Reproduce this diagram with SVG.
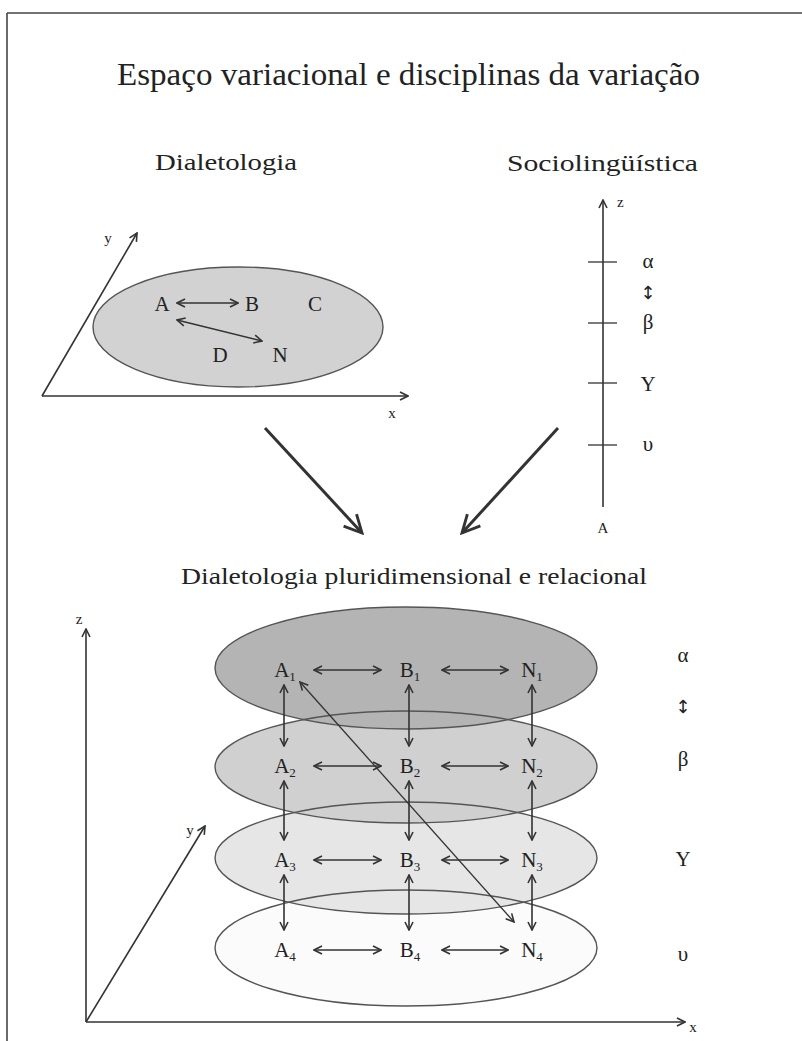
<svg xmlns="http://www.w3.org/2000/svg" width="802" height="1041" viewBox="0 0 802 1041">
<style>
text{font-family:"Liberation Serif","Times New Roman",serif;fill:#222}
.t{font-size:31px}
.h{font-size:23px}
.g{font-size:21px;text-anchor:middle}
.s{font-size:15px}
.ax{stroke:#333;stroke-width:1.6;fill:none}
.ln{stroke:#333;stroke-width:1.6;fill:none}
.tk{stroke:#333;stroke-width:1.3}
.el{stroke:#555;stroke-width:1.4}
.eo{stroke:#555;stroke-width:1.4;fill:none}
.sub{font-size:13px}
.arr{font-family:"DejaVu Sans",sans-serif;font-size:18px}
</style>
<defs>
<marker id="ah" viewBox="0 0 10 10" refX="9" refY="5" markerWidth="10" markerHeight="10" markerUnits="userSpaceOnUse" orient="auto-start-reverse">
<path d="M1,1 L9,5 L1,9" fill="none" stroke="#333" stroke-width="1.6"/>
</marker>
<marker id="ahb" viewBox="0 0 10 10" refX="9" refY="5" markerWidth="22" markerHeight="22" markerUnits="userSpaceOnUse" orient="auto">
<path d="M1,1 L9,5 L1,9" fill="none" stroke="#333" stroke-width="1.3"/>
</marker>
</defs>
<rect width="802" height="1041" fill="#fff"/>
<g id="frame">
<line x1="7" y1="13" x2="802" y2="13" stroke="#444" stroke-width="1.6"/>
<line x1="7" y1="13" x2="7" y2="1041" stroke="#444" stroke-width="1.6"/>
</g>
<g id="title"><text class="t" x="117" y="85" textLength="583" lengthAdjust="spacingAndGlyphs">Espaço variacional e disciplinas da variação</text></g>

<g id="dialetologia">
<text class="h" x="155" y="170" textLength="142" lengthAdjust="spacingAndGlyphs">Dialetologia</text>
<ellipse cx="238" cy="327" rx="145" ry="60" fill="#d2d2d2" class="el"/>
<line class="ax" x1="42" y1="396" x2="408" y2="396" marker-end="url(#ah)"/>
<line class="ax" x1="42" y1="396" x2="137" y2="233" marker-end="url(#ah)"/>
<text class="s" x="108" y="243" text-anchor="middle">y</text>
<text class="s" x="392" y="418" text-anchor="middle">x</text>
<text class="g" x="162" y="311">A</text>
<text class="g" x="252" y="311">B</text>
<text class="g" x="315" y="311">C</text>
<text class="g" x="220" y="362">D</text>
<text class="g" x="280" y="362">N</text>
<line class="ln" x1="177" y1="303" x2="238" y2="303" marker-start="url(#ah)" marker-end="url(#ah)"/>
<line class="ln" x1="177" y1="320" x2="262" y2="341" marker-start="url(#ah)" marker-end="url(#ah)"/>
</g>

<g id="sociolinguistica">
<text class="h" x="507" y="171" textLength="191" lengthAdjust="spacingAndGlyphs">Sociolingüística</text>
<line class="ax" x1="603" y1="507" x2="603" y2="200" marker-end="url(#ah)"/>
<text class="s" x="617" y="207">z</text>
<line class="tk" x1="588" y1="262" x2="617" y2="262"/>
<line class="tk" x1="588" y1="323" x2="617" y2="323"/>
<line class="tk" x1="588" y1="383" x2="617" y2="383"/>
<line class="tk" x1="588" y1="445" x2="617" y2="445"/>
<text class="g" x="648" y="268">α</text>
<text class="g arr" x="648" y="299">↕</text>
<text class="g" x="648" y="329">β</text>
<text class="g" x="648" y="391">Υ</text>
<text class="g" x="648" y="451">υ</text>
<text class="s" x="603" y="533" text-anchor="middle">A</text>
</g>

<g id="connectors">
<line x1="265" y1="428" x2="362" y2="533" stroke="#333" stroke-width="3" marker-end="url(#ahb)"/>
<line x1="558" y1="428" x2="462" y2="533" stroke="#333" stroke-width="3" marker-end="url(#ahb)"/>
</g>

<g id="pluridimensional">
<text class="h" x="181" y="584" textLength="466" lengthAdjust="spacingAndGlyphs">Dialetologia pluridimensional e relacional</text>
<line class="ax" x1="86" y1="1022" x2="86" y2="629" marker-end="url(#ah)"/>
<line class="ax" x1="86" y1="1022" x2="685" y2="1022" marker-end="url(#ah)"/>
<line class="ax" x1="86" y1="1022" x2="205" y2="826" marker-end="url(#ah)"/>
<text class="s" x="79" y="624" text-anchor="middle">z</text>
<text class="s" x="693" y="1032" text-anchor="middle">x</text>
<text class="s" x="190" y="835" text-anchor="middle">y</text>
</g>

<g id="layer4"><ellipse cx="406" cy="948" rx="191" ry="58" fill="#fbfbfb"/></g>
<g id="layer3"><ellipse cx="406" cy="858" rx="191" ry="56" fill="#e6e6e6"/></g>
<g id="layer2"><ellipse cx="406" cy="767" rx="191" ry="56" fill="#d0d0d0"/></g>
<g id="layer1"><ellipse cx="406" cy="668" rx="191" ry="61" fill="#b4b4b4"/></g>
<g id="layer-outlines">
<ellipse class="eo" cx="406" cy="948" rx="191" ry="58"/>
<ellipse class="eo" cx="406" cy="858" rx="191" ry="56"/>
<ellipse class="eo" cx="406" cy="767" rx="191" ry="56"/>
<ellipse class="eo" cx="406" cy="668" rx="191" ry="61"/>
</g>

<g id="nodes">
<text class="g" x="285" y="677">A<tspan class="sub" dy="4">1</tspan></text>
<text class="g" x="410" y="677">B<tspan class="sub" dy="4">1</tspan></text>
<text class="g" x="532" y="677">N<tspan class="sub" dy="4">1</tspan></text>
<text class="g" x="285" y="773">A<tspan class="sub" dy="4">2</tspan></text>
<text class="g" x="410" y="773">B<tspan class="sub" dy="4">2</tspan></text>
<text class="g" x="532" y="773">N<tspan class="sub" dy="4">2</tspan></text>
<text class="g" x="285" y="867">A<tspan class="sub" dy="4">3</tspan></text>
<text class="g" x="410" y="867">B<tspan class="sub" dy="4">3</tspan></text>
<text class="g" x="532" y="867">N<tspan class="sub" dy="4">3</tspan></text>
<text class="g" x="285" y="957">A<tspan class="sub" dy="4">4</tspan></text>
<text class="g" x="410" y="957">B<tspan class="sub" dy="4">4</tspan></text>
<text class="g" x="532" y="957">N<tspan class="sub" dy="4">4</tspan></text>
</g>

<g id="levels">
<text class="g" x="683" y="662">α</text>
<text class="g arr" x="683" y="713">↕</text>
<text class="g" x="683" y="766">β</text>
<text class="g" x="683" y="866">Υ</text>
<text class="g" x="683" y="961">υ</text>
</g>

<g id="grid-connectors">
<line class="ln" x1="314" y1="670" x2="381" y2="670" marker-start="url(#ah)" marker-end="url(#ah)"/>
<line class="ln" x1="442" y1="670" x2="508" y2="670" marker-start="url(#ah)" marker-end="url(#ah)"/>
<line class="ln" x1="314" y1="766" x2="381" y2="766" marker-start="url(#ah)" marker-end="url(#ah)"/>
<line class="ln" x1="442" y1="766" x2="508" y2="766" marker-start="url(#ah)" marker-end="url(#ah)"/>
<line class="ln" x1="314" y1="860" x2="381" y2="860" marker-start="url(#ah)" marker-end="url(#ah)"/>
<line class="ln" x1="442" y1="860" x2="508" y2="860" marker-start="url(#ah)" marker-end="url(#ah)"/>
<line class="ln" x1="314" y1="950" x2="381" y2="950" marker-start="url(#ah)" marker-end="url(#ah)"/>
<line class="ln" x1="442" y1="950" x2="508" y2="950" marker-start="url(#ah)" marker-end="url(#ah)"/>
<line class="ln" x1="284" y1="685" x2="284" y2="746" marker-start="url(#ah)" marker-end="url(#ah)"/>
<line class="ln" x1="409" y1="685" x2="409" y2="746" marker-start="url(#ah)" marker-end="url(#ah)"/>
<line class="ln" x1="532" y1="685" x2="532" y2="746" marker-start="url(#ah)" marker-end="url(#ah)"/>
<line class="ln" x1="284" y1="781" x2="284" y2="840" marker-start="url(#ah)" marker-end="url(#ah)"/>
<line class="ln" x1="409" y1="781" x2="409" y2="840" marker-start="url(#ah)" marker-end="url(#ah)"/>
<line class="ln" x1="532" y1="781" x2="532" y2="840" marker-start="url(#ah)" marker-end="url(#ah)"/>
<line class="ln" x1="284" y1="875" x2="284" y2="930" marker-start="url(#ah)" marker-end="url(#ah)"/>
<line class="ln" x1="409" y1="875" x2="409" y2="930" marker-start="url(#ah)" marker-end="url(#ah)"/>
<line class="ln" x1="532" y1="875" x2="532" y2="930" marker-start="url(#ah)" marker-end="url(#ah)"/>
<line x1="300" y1="682" x2="514" y2="922" stroke="#333" stroke-width="1.3" marker-start="url(#ah)" marker-end="url(#ah)"/>
</g>
</svg>
